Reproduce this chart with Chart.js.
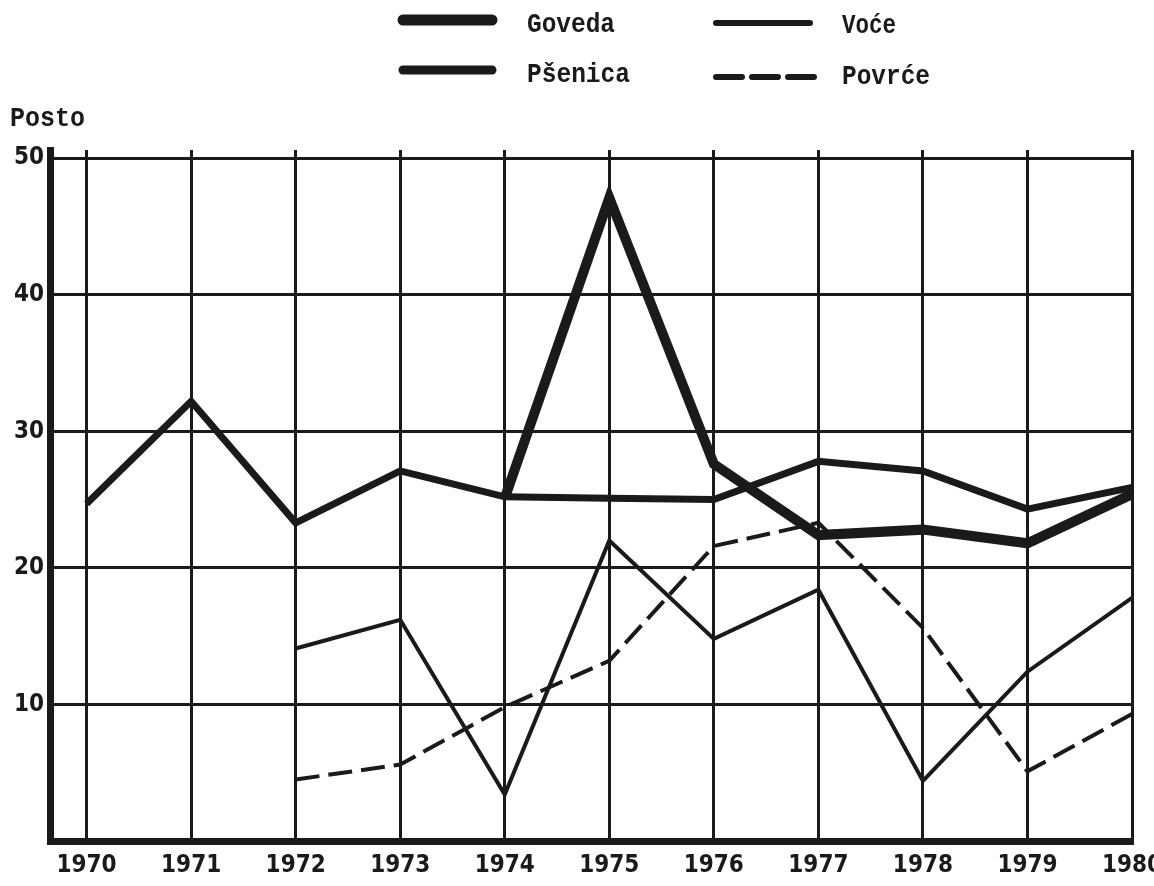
<!DOCTYPE html>
<html><head><meta charset="utf-8">
<script src="https://cdn.jsdelivr.net/npm/chart.js@4"></script>
<style>
html,body{margin:0;padding:0;background:#fff;}
#wrap{position:relative;width:1154px;height:886px;overflow:hidden;background:#fff;}
canvas{position:absolute;left:0;top:0;}
svg{position:absolute;left:0;top:0;}
.lg{font-family:'Liberation Mono','DejaVu Sans Mono',monospace;font-weight:bold;font-size:27px;fill:#1a1a1a;}
</style></head><body>
<div id="wrap">
<canvas id="c" width="1154" height="886"></canvas>
<svg width="1154" height="140" viewBox="0 0 1154 140">
  <line x1="403" y1="20" x2="492" y2="20" stroke="#1a1a1a" stroke-width="11" stroke-linecap="round"/>
  <text class="lg" x="527" y="32" textLength="88" lengthAdjust="spacingAndGlyphs">Goveda</text>
  <line x1="403" y1="70" x2="492" y2="70" stroke="#1a1a1a" stroke-width="9" stroke-linecap="round"/>
  <text class="lg" x="527" y="82" textLength="103" lengthAdjust="spacingAndGlyphs">Pšenica</text>
  <line x1="716" y1="23" x2="810" y2="23" stroke="#1a1a1a" stroke-width="6" stroke-linecap="round"/>
  <text class="lg" x="842" y="33" textLength="54" lengthAdjust="spacingAndGlyphs">Voće</text>
  <line x1="716" y1="77" x2="818" y2="77" stroke="#1a1a1a" stroke-width="6" stroke-linecap="round" stroke-dasharray="26 10"/>
  <text class="lg" x="842" y="84" textLength="88" lengthAdjust="spacingAndGlyphs">Povrće</text>
  <text class="lg" x="10" y="126" textLength="75" lengthAdjust="spacingAndGlyphs">Posto</text>
</svg>
</div>
<script>
const years = [1970,1971,1972,1973,1974,1975,1976,1977,1978,1979,1980];
const goveda  = [null,null,null,null,25.1,47.1,27.6,22.4,22.8,21.8,25.4];
const psenica = [24.7,32.2,23.3,27.1,25.2,25.1,25.0,27.8,27.1,24.3,25.9];
const voce    = [null,null,14.1,16.2,3.4,22.0,14.8,18.4,4.4,12.4,17.8];
const povrce  = [null,null,4.5,5.6,9.8,13.2,21.6,23.3,15.6,5.1,9.3];
const yTicks  = [0,10,20,30,40,50];

const ink = '#1a1a1a';
const pts = arr => arr.map((v,i)=>({x:years[i], y:v}));
const tickFont = {family:"'DejaVu Sans Condensed','Liberation Sans Narrow',sans-serif", size:24, weight:'bold'};

new Chart(document.getElementById('c').getContext('2d'), {
  type:'line',
  data:{datasets:[
    {label:'Goveda', data:pts(goveda), borderColor:ink, borderWidth:10},
    {label:'Pšenica', data:pts(psenica), borderColor:ink, borderWidth:7},
    {label:'Voće', data:pts(voce), borderColor:ink, borderWidth:4},
    {label:'Povrće', data:pts(povrce), borderColor:ink, borderWidth:4, borderDash:[24,9]}
  ]},
  options:{
    responsive:false, animation:false,
    layout:{padding:{top:150,right:22,left:0,bottom:0}},
    plugins:{legend:{display:false}, tooltip:{enabled:false}},
    elements:{point:{radius:0,hoverRadius:0}, line:{tension:0, fill:false, borderJoinStyle:'miter'}},
    scales:{
      x:{type:'linear', min:1969.65, max:1980,
        afterBuildTicks:s=>{s.ticks=years.map(v=>({value:v}));},
        afterFit:s=>{s.height=45; s.paddingLeft=0; s.paddingRight=0;},
        grid:{color:ink, lineWidth:3, drawTicks:false},
        border:{color:ink, width:7},
        ticks:{padding:10, color:ink, font:tickFont, maxRotation:0, autoSkip:false, callback:v=>String(v)}
      },
      y:{min:0, max:50.6,
        afterBuildTicks:s=>{s.ticks=yTicks.map(v=>({value:v}));},
        afterFit:s=>{s.width=50; s.paddingTop=0; s.paddingBottom=0;},
        grid:{color:ink, lineWidth:3, drawTicks:false},
        border:{color:ink, width:7},
        ticks:{padding:6, color:ink, font:tickFont, callback:v=>v===0?'':String(v)}
      }
    }
  }
});
</script>
</body></html>
